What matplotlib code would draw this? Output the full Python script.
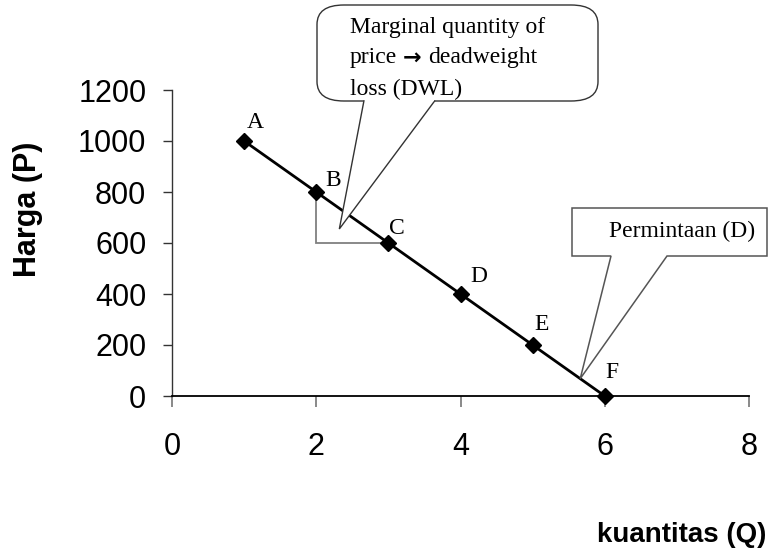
import matplotlib
matplotlib.use("Agg")
import matplotlib.pyplot as plt
from matplotlib.patches import PathPatch, FancyBboxPatch, Polygon
from matplotlib.path import Path

# demand schedule
quantity = [1, 2, 3, 4, 5, 6]
price = [1000, 800, 600, 400, 200, 0]
point_labels = ["A", "B", "C", "D", "E", "F"]
x_ticks = [0, 2, 4, 6, 8]
y_ticks = [0, 200, 400, 600, 800, 1000, 1200]

# label placement (pixels from each point)
label_offsets = [(11, 18), (17, 12), (9, 15), (18, 17), (9, 20), (7, 24)]

W, H = 769, 554
fig = plt.figure(figsize=(W / 100, H / 100), dpi=100)
ax = fig.add_axes([172 / W, 1 - 396 / H, 577 / W, 306 / H])

SANS = ["Liberation Sans", "DejaVu Sans"]
SERIF = ["Liberation Serif", "DejaVu Serif"]


def px(x, y):
    """figure pixel (from top-left) -> figure fraction"""
    return x / W, 1 - y / H


def data_px(x, y):
    dx, dy = ax.transData.transform((x, y))
    return dx, H - dy


# DWL triangle between B and C
ax.plot([quantity[1], quantity[1], quantity[2]], [price[1], price[2], price[2]],
        color="#808080", lw=1.3, zorder=2, solid_joinstyle="miter")

ax.plot(quantity, price, color="black", lw=2, marker="D", ms=8.5,
        zorder=4, clip_on=False)
for q, p, lab, (ox, oy) in zip(quantity, price, point_labels, label_offsets):
    ax.annotate(lab, (q, p), xytext=(ox, oy), textcoords="offset pixels",
                ha="center", va="center", fontsize=17, family=SERIF, zorder=5)

ax.set_xlim(0, 8)
ax.set_ylim(0, 1200)
ax.set_xticks(x_ticks)
ax.set_yticks(y_ticks)
ax.set_xticklabels([str(t) for t in x_ticks], family=SANS, fontsize=22)
ax.set_yticklabels([str(t) for t in y_ticks], family=SANS, fontsize=22)
ax.tick_params(axis="x", direction="out", length=8, width=1.3,
               color="#808080", pad=18)
ax.tick_params(axis="y", direction="out", length=6.5, width=1,
               color="#333333", pad=12)
for side in ("top", "right"):
    ax.spines[side].set_visible(False)
ax.spines["left"].set_color("#333333")
ax.spines["left"].set_linewidth(1)
ax.spines["bottom"].set_linewidth(1.3)

fig.text(*px(28, 209), "Harga (P)", rotation=90, ha="center", va="center",
         fontsize=22, fontweight="bold", family=SANS)
fig.text(*px(766, 535), "kuantitas (Q)", ha="right", va="center",
         fontsize=20, fontweight="bold", family=SANS)

# callout 1: rounded box with wedge pointing into the DWL triangle
tip1 = data_px(2.32, 655)
bx0, by0, bx1, by1 = 317, 5, 598, 101
box = FancyBboxPatch(px(bx0, by1), (bx1 - bx0) / W, (by1 - by0) / H,
                     boxstyle="round,pad=0,rounding_size=0.035",
                     transform=fig.transFigure, facecolor="white",
                     edgecolor="#333333", lw=1, zorder=1)
fig.add_artist(box)
wedge = Polygon([px(364, by1 - 0.5), px(*tip1), px(435, by1 - 0.5)],
                closed=False, transform=fig.transFigure, facecolor="white",
                edgecolor="#333333", lw=1, zorder=1)
fig.add_artist(wedge)
fig.add_artist(Polygon([px(365, by1 - 1.5), px(434, by1 - 1.5)],
                       closed=False, transform=fig.transFigure,
                       edgecolor="white", lw=1.6, zorder=1))

# callout text, one line at a time so the arrow can use a heavier glyph
fig.text(*px(350, 27), "Marginal quantity of", ha="left", va="center",
         fontsize=17, family=SERIF)
fig.text(*px(350, 89), "loss (DWL)", ha="left", va="center",
         fontsize=17, family=SERIF)
t_price = fig.text(*px(350, 58), "price", ha="left", va="center",
                   fontsize=17, family=SERIF)
renderer = fig.canvas.get_renderer()
right = t_price.get_window_extent(renderer).x1
t_arrow = fig.text((right + 6) / W, 1 - 58 / H, "\u2192", ha="left",
                   va="center", fontsize=16, fontweight="bold",
                   family=["DejaVu Sans"])
right = t_arrow.get_window_extent(renderer).x1
fig.text((right + 6) / W, 1 - 58 / H, "deadweight", ha="left", va="center",
         fontsize=17, family=SERIF)

# callout 2: plain box pointing at the demand line
tip2 = data_px(5.66, 68)
cx0, cy0, cx1, cy1 = 572, 208, 767, 256
verts = [px(cx0, cy0), px(cx1, cy0), px(cx1, cy1), px(667, cy1), px(*tip2),
         px(611, cy1), px(cx0, cy1), px(cx0, cy0)]
callout2 = PathPatch(Path(verts, closed=True), transform=fig.transFigure,
                     facecolor="white", edgecolor="#555555", lw=1.1, zorder=1)
fig.add_artist(callout2)
fig.text(*px(682, 231), "Permintaan (D)", ha="center", va="center",
         fontsize=17, family=SERIF)

fig.savefig("out.png", dpi=100)
